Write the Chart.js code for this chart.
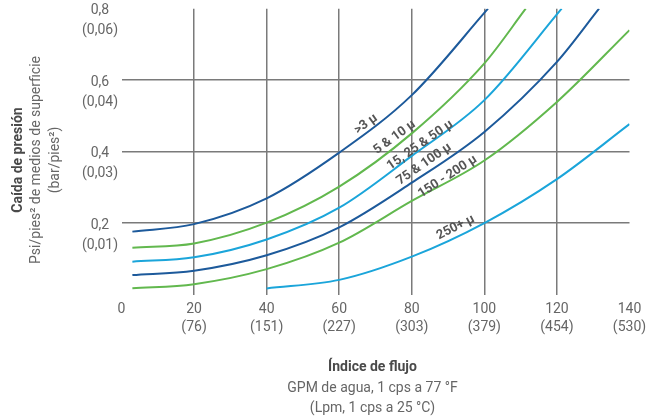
<!DOCTYPE html>
<html lang="es">
<head>
<meta charset="utf-8">
<title>Caída de presión</title>
<script src="https://cdn.jsdelivr.net/npm/chart.js@4/dist/chart.umd.min.js"></script>
<style>
  html, body { margin: 0; padding: 0; background: #fff; }
  #wrap { width: 647px; height: 419px; }
</style>
</head>
<body>
<div id="wrap"><canvas id="PressureChart" width="647" height="419"></canvas></div>
<script>
/* ---------- DATA ---------- */
const seriesNames = [">3 μ", "5 & 10 μ", "15, 25 & 50 μ", "75 & 100 μ", "150 - 200 μ", "250+ μ"];

// GPM (x) and psi/pies² (y)
const flow3 = [3, 20, 40, 60, 80, 101];
const drop3 = [0.176, 0.197, 0.269, 0.397, 0.558, 0.8];
const flow5 = [3, 20, 40, 60, 80, 100, 111.4];
const drop5 = [0.131, 0.143, 0.201, 0.302, 0.451, 0.647, 0.8];
const flow15 = [3, 20, 40, 60, 80, 100, 121.3];
const drop15 = [0.092, 0.104, 0.154, 0.243, 0.388, 0.544, 0.8];
const flow75 = [3, 20, 40, 60, 80, 100, 120, 131.6];
const drop75 = [0.0545, 0.0667, 0.110, 0.188, 0.313, 0.455, 0.651, 0.8];
const flow150 = [3, 20, 40, 60, 80, 100, 120, 140];
const drop150 = [0.0173, 0.029, 0.071, 0.145, 0.262, 0.375, 0.539, 0.74];
const flow250 = [40, 60, 80, 100, 120, 140];
const drop250 = [0.017, 0.041, 0.106, 0.2, 0.323, 0.477];

const yTickValues = [0.2, 0.4, 0.6, 0.8];
const yTickPsi = ["0,2", "0,4", "0,6", "0,8"];
const yTickBar = ["(0,01)", "(0,03)", "(0,04)", "(0,06)"];
const xTickGpm = ["0", "20", "40", "60", "80", "100", "120", "140"];
const xTickLpm = ["", "(76)", "(151)", "(227)", "(303)", "(379)", "(454)", "(530)"];

// where each curve name sits (data units) and its slant
const labelFlow = [67.4, 75.3, 82.3, 83.4, 89.9, 92.1];
const labelDrop = [0.477, 0.440, 0.418, 0.365, 0.330, 0.188];
const labelAngle = [-36, -36, -35, -35, -33, -27];

/* ---------- STYLE ---------- */
const DARK = "#1d5a9b";
const GREEN = "#62b84e";
const LIGHT = "#1ba5da";
const seriesColors = [DARK, GREEN, LIGHT, DARK, GREEN, LIGHT];
const GRID = "#7a7a7a";
const TEXT = "#666";
const FONT = "Roboto, 'DejaVu Sans', sans-serif";

document.addEventListener("DOMContentLoaded", () => {
  const ctx = document.getElementById("PressureChart")?.getContext("2d");
  if (!ctx) {
    console.error("Canvas element not found");
    return;
  }

  const flows = [flow3, flow5, flow15, flow75, flow150, flow250];
  const drops = [drop3, drop5, drop15, drop75, drop150, drop250];

  const datasets = seriesNames.map((name, i) => ({
    label: name,
    data: flows[i].map((x, j) => ({ x: x, y: drops[i][j] })),
    borderColor: seriesColors[i],
    borderWidth: 2,
    pointRadius: 0,
    fill: false,
    cubicInterpolationMode: "monotone"
  }));

  /* ---------- CURVE NAMES ---------- */
  const curveLabels = {
    id: "curveLabels",
    afterDatasetsDraw(chart) {
      const { ctx, scales } = chart;
      ctx.save();
      ctx.font = "bold 13px " + FONT;
      ctx.fillStyle = "#555";
      ctx.textAlign = "center";
      ctx.textBaseline = "middle";
      seriesNames.forEach((name, i) => {
        const px = scales.x.getPixelForValue(labelFlow[i]);
        const py = scales.y.getPixelForValue(labelDrop[i]);
        ctx.save();
        ctx.translate(px, py);
        ctx.rotate(labelAngle[i] * Math.PI / 180);
        ctx.fillText(name, 0, 0);
        ctx.restore();
      });
      ctx.restore();
    }
  };

  /* ---------- AXIS TITLES ---------- */
  const axisTitles = {
    id: "axisTitles",
    afterDraw(chart) {
      const { ctx, chartArea } = chart;
      const cx = (chartArea.left + chartArea.right) / 2 - 3;
      ctx.save();
      ctx.textAlign = "center";
      ctx.textBaseline = "middle";

      ctx.fillStyle = "#4a4a4a";
      ctx.font = "bold 14px " + FONT;
      ctx.fillText("Índice de flujo", cx, 367);
      ctx.fillStyle = TEXT;
      ctx.font = "14px " + FONT;
      ctx.fillText("GPM de agua, 1 cps a 77 °F", cx, 388);
      ctx.fillText("(Lpm, 1 cps a 25 °C)", cx, 408);

      ctx.translate(0, 160);
      ctx.rotate(-Math.PI / 2);
      ctx.fillStyle = "#4a4a4a";
      ctx.font = "bold 14px " + FONT;
      ctx.fillText("Caída de presión", 0, 18);
      ctx.fillStyle = TEXT;
      ctx.font = "14px " + FONT;
      ctx.fillText("Psi/pies² de medios de superficie", 0, 36);
      ctx.fillText("(bar/pies²)", 0, 55);
      ctx.restore();
    }
  };

  /* ---------- CHART ---------- */
  new Chart(ctx, {
    type: "line",
    data: { datasets },
    plugins: [curveLabels, axisTitles],
    options: {
      responsive: false,
      animation: false,
      layout: { padding: { left: 0, right: 17.5, top: 8.7, bottom: 0 } },
      plugins: {
        legend: { display: false },
        tooltip: { enabled: false }
      },
      scales: {
        x: {
          type: "linear",
          min: 0,
          max: 140,
          border: { display: false },
          grid: {
            drawTicks: false,
            lineWidth: 1.5,
            color: c => (c.tick && c.tick.value > 0 && c.tick.value < 140) ? GRID : "rgba(0,0,0,0)"
          },
          ticks: {
            stepSize: 20,
            padding: 5.5,
            color: TEXT,
            font: { family: FONT, size: 14, lineHeight: 1.3 },
            maxRotation: 0,
            callback: v => {
              const i = Math.round(v / 20);
              return xTickLpm[i] ? [xTickGpm[i], xTickLpm[i]] : xTickGpm[i];
            }
          },
          afterFit: scale => {
            scale.height = 124.5;
            scale.paddingLeft = 0;
            scale.paddingRight = 0;
          }
        },
        y: {
          type: "linear",
          min: 0,
          max: 0.8,
          border: { display: false },
          grid: {
            drawTicks: false,
            lineWidth: 1.5,
            color: c => (c.tick && c.tick.value > 0.01 && c.tick.value < 0.79) ? GRID : "rgba(0,0,0,0)"
          },
          ticks: {
            stepSize: 0.2,
            padding: 3.5,
            crossAlign: "center",
            labelOffset: 12,
            color: TEXT,
            font: { family: FONT, size: 14, lineHeight: 1.43 },
            callback: v => {
              const i = yTickValues.findIndex(t => Math.abs(t - v) < 1e-6);
              return i < 0 ? "" : [yTickPsi[i], yTickBar[i]];
            }
          },
          afterFit: scale => {
            scale.width = 121.5;
            scale.paddingTop = 0;
            scale.paddingBottom = 0;
          }
        }
      }
    }
  });
});
</script>
</body>
</html>
